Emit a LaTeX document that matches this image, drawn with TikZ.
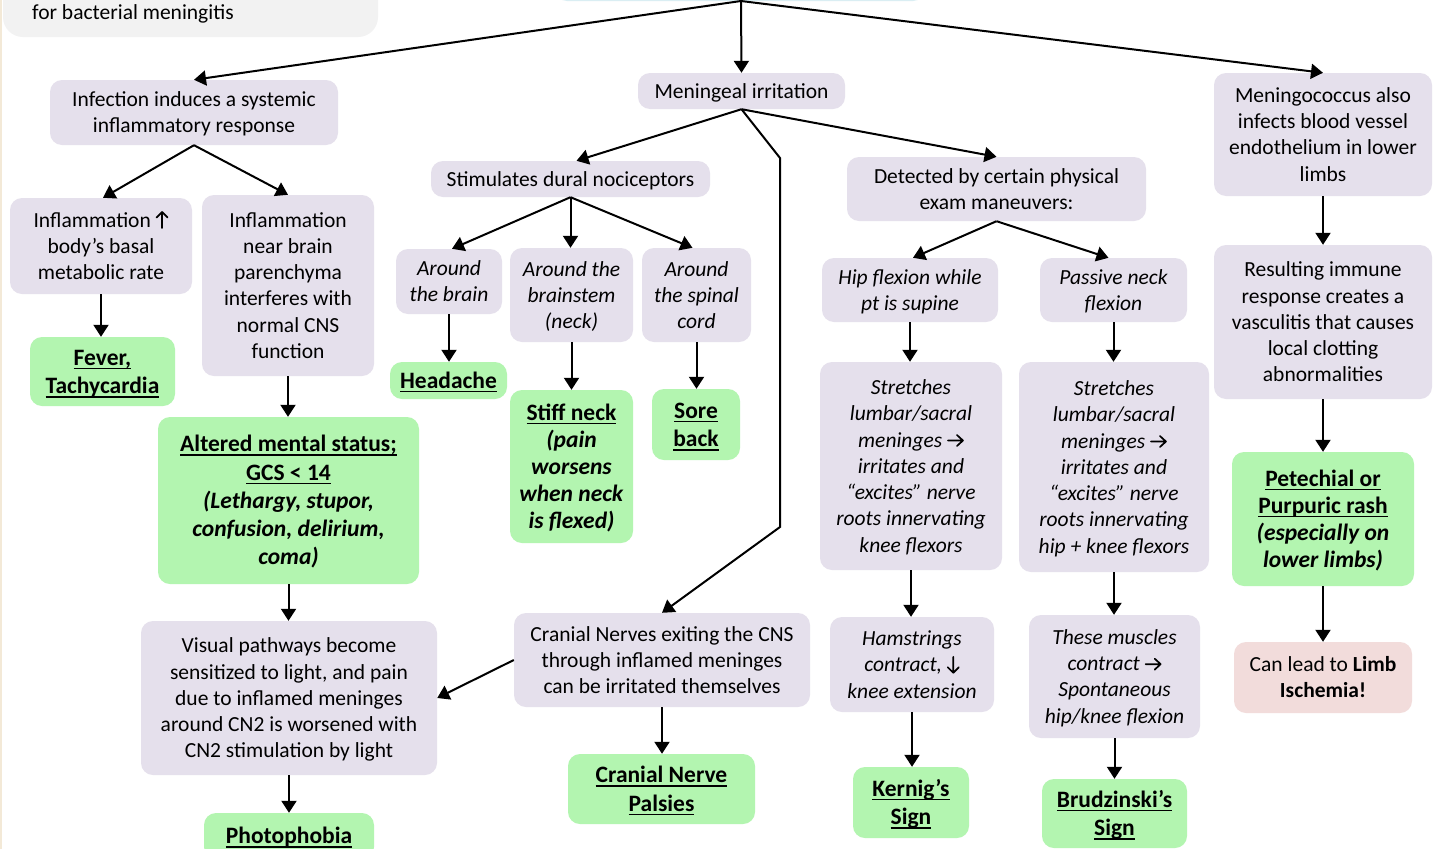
\documentclass[tikz,border=0pt]{standalone}
\usepackage{fontspec}
\usepackage{array}
\usetikzlibrary{arrows.meta}
\setmainfont{Carlito}
\definecolor{lav}{HTML}{E5E0EC}
\definecolor{grn}{HTML}{B3F5B0}
\definecolor{pnk}{HTML}{F2DCDB}
\definecolor{lgray}{HTML}{F2F2F2}
\definecolor{lblue}{HTML}{DAEEF3}
\definecolor{beige}{HTML}{F3E9D7}
% each font size carries its own line strut (\st), used by \ml
\newcommand\normfont{\fontsize{21.5}{26.3}\selectfont\def\st{\rule[-5.85pt]{0pt}{26.3pt}}}
\newcommand\grnfont{\fontsize{23.5}{28.3}\selectfont\bfseries\def\st{\rule[-6.3pt]{0pt}{28.3pt}}}
\newcommand\grnfontb{\fontsize{23.5}{27}\selectfont\bfseries\def\st{\rule[-6pt]{0pt}{27pt}}}
% small in-text arrows with open heads
\tikzset{glyph/.style={x=1pt, y=1pt, sharp corners, line width=1.7pt, line cap=round, line join=round}}
\newcommand\rarr{\tikz[glyph, baseline=-6.5pt]\draw (0,0)--(15,0) (9,5.5)--(15,0)--(9,-5.5);}
\newcommand\uarr{\tikz[glyph, baseline=0pt]\draw (0,-1)--(0,15) (-5.5,9.5)--(0,15)--(5.5,9.5);}
\newcommand\darr{\tikz[glyph, baseline=0pt]\draw (0,15)--(0,-1) (-5.5,4.5)--(0,-1)--(5.5,4.5);}
% centred lines, spaced by the strut of the current font
\newcommand\ml[1]{{\renewcommand\arraystretch{0.1}\begin{tabular}{@{}>{\st}c@{}}#1\end{tabular}}}
% underline at a fixed depth below the baseline
\newsavebox\ulbox
\newcommand\uln[1]{\sbox\ulbox{#1}\rlap{\rule[-4pt]{\wd\ulbox}{1.5pt}}\usebox\ulbox}
\tikzset{
  wh/.style 2 args={minimum width=#1, minimum height=#2},
  box/.style={rounded corners=12pt, inner sep=0pt, text=black},
  gbox/.style={box, fill=lav, font=\normfont},
  ibox/.style={box, fill=lav, font=\normfont\itshape},
  gnbox/.style={box, fill=grn, font=\grnfont},
  pbox/.style={box, fill=pnk, font=\normfont},
  arr/.style={-{Triangle[length=12pt,width=15pt]}, line width=2pt},
}
\begin{document}
\begin{tikzpicture}[x=1pt,y=-1pt]
\useasboundingbox (0,0) rectangle (1441,849);
\fill[white] (0,0) rectangle (1441,849);
\clip (0,0) rectangle (1441,849);
\fill[beige] (0,0) rectangle (2,849);

% boxes running off the top edge
\fill[lgray, rounded corners=20pt] (3,-60) rectangle (378,37);
\node[anchor=west, font=\normfont, inner sep=0pt] (intro) at (32,14) {for bacterial meningitis};
\fill[lblue, rounded corners=12pt] (555,-60) rectangle (925,1);
\coordinate (top) at (741,1);

% first level
\node[gbox, wh={288}{65}] (inf) at (194,112.5) {\ml{Infection induces a systemic\\inflammatory response}};
\node[gbox, wh={207}{36}] (mening) at (741.5,91) {\ml{Meningeal irritation}};
\node[gbox, wh={218}{123}] (menco) at (1323,134.5) {\ml{Meningococcus also\\infects blood vessel\\endothelium in lower\\limbs}};

% systemic inflammation branch
\node[gbox, wh={182}{96}] (infl1) at (101,246) {\ml{Inflammation\ \uarr\\body’s basal\\metabolic rate}};
\node[gbox, wh={172}{181}] (infl2) at (288,285.5) {\ml{Inflammation\\near brain\\parenchyma\\interferes with\\normal CNS\\function}};
\node[gnbox, wh={145}{69}] (fever) at (102.5,371.5) {\ml{\uln{Fever,}\\\uln{Tachycardia}}};
\node[gnbox, wh={261}{167}] (ams) at (288.5,500.5) {\ml{\uln{Altered mental status;}\\\uln{GCS < 14}\\\textit{(Lethargy, stupor,}\\\textit{confusion, delirium,}\\\textit{coma)}}};
\node[gbox, wh={296}{154}] (visual) at (289,698) {\ml{Visual pathways become\\sensitized to light, and pain\\due to inflamed meninges\\around CN2 is worsened with\\CN2 stimulation by light}};
\node[gnbox, wh={170}{46}] (photo) at (289,836) {\ml{\uln{Photophobia}}};

% dural nociceptors branch
\node[gbox, wh={279}{36}] (dural) at (570.5,179) {\ml{Stimulates dural nociceptors}};
\node[ibox, wh={106}{65}] (brain) at (449,281.5) {\ml{Around\\the brain}};
\node[ibox, wh={123}{94}] (stem) at (571.5,295) {\ml{Around the\\brainstem\\(neck)}};
\node[ibox, wh={109}{94}] (spinal) at (696.5,295) {\ml{Around\\the spinal\\cord}};
\node[gnbox, wh={117}{37}] (head) at (448.5,380.5) {\ml{\uln{Headache}}};
\node[gnbox, wh={123}{153}, font=\grnfontb] (stiff) at (571.5,466.5) {\ml{\uln{Stiff neck}\\\textit{(pain}\\\textit{worsens}\\\textit{when neck}\\\textit{is flexed)}}};
\node[gnbox, wh={88}{71}] (sore) at (696,424.5) {\ml{\uln{Sore}\\\uln{back}}};

% cranial nerves branch
\coordinate (bendA) at (780,158);
\coordinate (bendB) at (780,527);
\node[gbox, wh={296}{94}] (cranial) at (662,660) {\ml{Cranial Nerves exiting the CNS\\through inflamed meninges\\can be irritated themselves}};
\node[gnbox, wh={187}{70}] (palsy) at (661.5,789) {\ml{\uln{Cranial Nerve}\\\uln{Palsies}}};

% physical exam branch
\node[gbox, wh={299}{64}] (detect) at (996.5,189) {\ml{Detected by certain physical\\exam maneuvers:}};
\node[ibox, wh={176}{64}] (hip) at (910,290) {\ml{Hip flexion while\\pt is supine}};
\node[ibox, wh={147}{64}] (passive) at (1113.5,290) {\ml{Passive neck\\flexion}};
\node[ibox, wh={182}{208}] (str1) at (911,466) {\ml{Stretches\\lumbar/sacral\\meninges\ \rarr\\irritates and\\“excites” nerve\\roots innervating\\knee flexors}};
\node[ibox, wh={190}{210}] (str2) at (1114,467) {\ml{Stretches\\lumbar/sacral\\meninges\ \rarr\\irritates and\\“excites” nerve\\roots innervating\\hip + knee flexors}};
\node[ibox, wh={164}{95}] (ham) at (912,664.5) {\ml{Hamstrings\\contract,\ \darr\\knee extension}};
\node[ibox, wh={171}{123}] (these) at (1114.5,676.5) {\ml{These muscles\\contract\ \rarr\\Spontaneous\\hip/knee flexion}};
\node[gnbox, wh={116}{71}] (kernig) at (911,802.5) {\ml{\uln{Kernig’s}\\\uln{Sign}}};
\node[gnbox, wh={145}{69}] (brud) at (1114.5,813.5) {\ml{\uln{Brudzinski’s}\\\uln{Sign}}};

% meningococcal vasculitis branch
\node[gbox, wh={218}{154}] (result) at (1323,322) {\ml{Resulting immune\\response creates a\\vasculitis that causes\\local clotting\\abnormalities}};
\node[gnbox, wh={182}{134}, font=\grnfontb] (petech) at (1323,519) {\ml{\uln{Petechial or}\\\uln{Purpuric rash}\\\textit{(especially on}\\\textit{lower limbs)}}};
\node[pbox, wh={178}{71}] (limb) at (1323,677.5) {\ml{Can lead to \textbf{Limb}\\\textbf{Ischemia!}}};

% connectors
\draw[arr] (top) -- (inf.north);
\draw[arr] (top) -- (mening.north);
\draw[arr] (top) -- (menco.north);

\draw[arr] (inf.south) -- ([xshift=2pt]infl1.north);
\draw[arr] (inf.south) -- (infl2.north);
\draw[arr] (infl1.south) -- (fever.north -| infl1.south);
\draw[arr] (infl2.south) -- (ams.north -| infl2.south);
\draw[arr] (ams.south) -- (visual.north -| ams.south);
\draw[arr] (visual.south) -- (photo.north -| visual.south);

\draw[arr] (mening.south) -- ([xshift=6pt]dural.north);
\draw[arr] (mening.south) -- (detect.north);
\draw[arr] (mening.south) -- (bendA) -- (bendB) -- (cranial.north);

\draw[arr] (dural.south) -- ([xshift=3pt]brain.north);
\draw[arr] (dural.south) -- (stem.north -| dural.south);
\draw[arr] (dural.south) -- ([xshift=-4pt]spinal.north);
\draw[arr] (brain.south) -- (head.north -| brain.south);
\draw[arr] (stem.south) -- (stiff.north -| stem.south);
\draw[arr] (spinal.south) -- (sore.north -| spinal.south);

\draw[arr] (cranial.west) -- (visual.east);
\draw[arr] (cranial.south) -- (palsy.north -| cranial.south);

\draw[arr] (detect.south) -- ([xshift=3pt]hip.north);
\draw[arr] (detect.south) -- ([xshift=-5pt]passive.north);
\draw[arr] (hip.south) -- (str1.north -| hip.south);
\draw[arr] (passive.south) -- (str2.north -| passive.south);
\draw[arr] (str1.south) -- (ham.north -| str1.south);
\draw[arr] (str2.south) -- (these.north -| str2.south);
\draw[arr] (ham.south) -- (kernig.north -| ham.south);
\draw[arr] (these.south) -- (brud.north -| these.south);

\draw[arr] (menco.south) -- (result.north);
\draw[arr] (result.south) -- (petech.north);
\draw[arr] (petech.south) -- (limb.north);
\end{tikzpicture}
\end{document}
